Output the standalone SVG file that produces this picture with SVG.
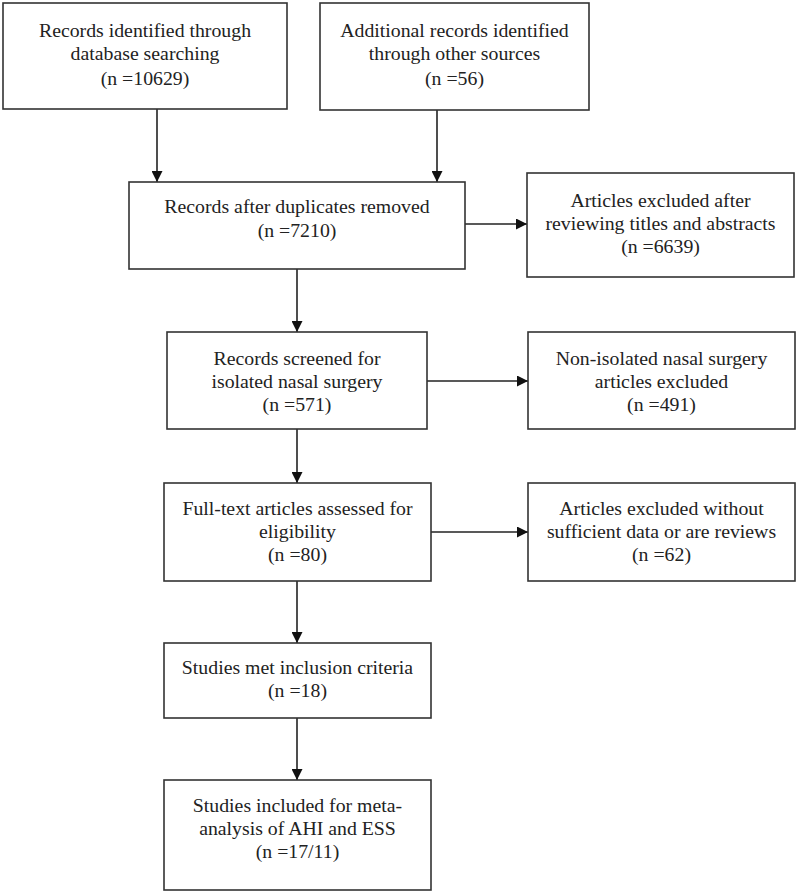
<svg xmlns="http://www.w3.org/2000/svg" width="800" height="895" viewBox="0 0 800 895">
<defs>
<style>
.box{fill:#fff;stroke:#333;stroke-width:1.6}
.t{font-family:"Liberation Serif","Times New Roman",serif;font-size:19.8px;fill:#222;text-anchor:middle}
.c{stroke:#222;stroke-width:1.6;fill:none;marker-end:url(#ah)}
</style>
<marker id="ah" markerUnits="userSpaceOnUse" markerWidth="11" markerHeight="11" refX="11" refY="5.5" orient="auto">
<path d="M0,0 L11,5.5 L0,11 z" fill="#111"/>
</marker>
</defs>
<rect width="800" height="895" fill="#fff"/>
<g id="connectors">
<line class="c" x1="157" y1="109" x2="157" y2="182"/>
<line class="c" x1="437" y1="110" x2="437" y2="182"/>
<line class="c" x1="465" y1="224" x2="527" y2="224"/>
<line class="c" x1="297" y1="269" x2="297" y2="332"/>
<line class="c" x1="427" y1="381" x2="528" y2="381"/>
<line class="c" x1="297" y1="429" x2="297" y2="483"/>
<line class="c" x1="431" y1="532" x2="528" y2="532"/>
<line class="c" x1="297" y1="581" x2="297" y2="643"/>
<line class="c" x1="297" y1="718" x2="297" y2="780"/>
</g>
<g id="n1">
<rect class="box" x="3" y="3" width="284" height="106"/>
<text class="t" x="145" y="37">Records identified through</text>
<text class="t" x="145" y="60">database searching</text>
<text class="t" x="145" y="85">(n =10629)</text>
</g>
<g id="n2">
<rect class="box" x="320" y="3" width="269" height="107"/>
<text class="t" x="454.5" y="37">Additional records identified</text>
<text class="t" x="454.5" y="60">through other sources</text>
<text class="t" x="454.5" y="85">(n =56)</text>
</g>
<g id="n3">
<rect class="box" x="129" y="182" width="336" height="87"/>
<text class="t" x="297" y="213">Records after duplicates removed</text>
<text class="t" x="297" y="237">(n =7210)</text>
</g>
<g id="n4">
<rect class="box" x="527" y="173" width="267" height="104"/>
<text class="t" x="660.5" y="207">Articles excluded after</text>
<text class="t" x="660.5" y="230">reviewing titles and abstracts</text>
<text class="t" x="660.5" y="253">(n =6639)</text>
</g>
<g id="n5">
<rect class="box" x="167" y="332" width="260" height="97"/>
<text class="t" x="297" y="365">Records screened for</text>
<text class="t" x="297" y="388">isolated nasal surgery</text>
<text class="t" x="297" y="411">(n =571)</text>
</g>
<g id="n6">
<rect class="box" x="528" y="332" width="267" height="97"/>
<text class="t" x="661.5" y="365">Non-isolated nasal surgery</text>
<text class="t" x="661.5" y="388">articles excluded</text>
<text class="t" x="661.5" y="411">(n =491)</text>
</g>
<g id="n7">
<rect class="box" x="164" y="483" width="267" height="98"/>
<text class="t" x="297.5" y="515">Full-text articles assessed for</text>
<text class="t" x="297.5" y="538">eligibility</text>
<text class="t" x="297.5" y="561">(n =80)</text>
</g>
<g id="n8">
<rect class="box" x="528" y="483" width="267" height="98"/>
<text class="t" x="661.5" y="515">Articles excluded without</text>
<text class="t" x="661.5" y="538">sufficient data or are reviews</text>
<text class="t" x="661.5" y="561">(n =62)</text>
</g>
<g id="n9">
<rect class="box" x="164" y="643" width="267" height="75"/>
<text class="t" x="297.5" y="674">Studies met inclusion criteria</text>
<text class="t" x="297.5" y="697">(n =18)</text>
</g>
<g id="n10">
<rect class="box" x="164" y="780" width="267" height="110"/>
<text class="t" x="297.5" y="812">Studies included for meta-</text>
<text class="t" x="297.5" y="835">analysis of AHI and ESS</text>
<text class="t" x="297.5" y="858">(n =17/11)</text>
</g>
</svg>
